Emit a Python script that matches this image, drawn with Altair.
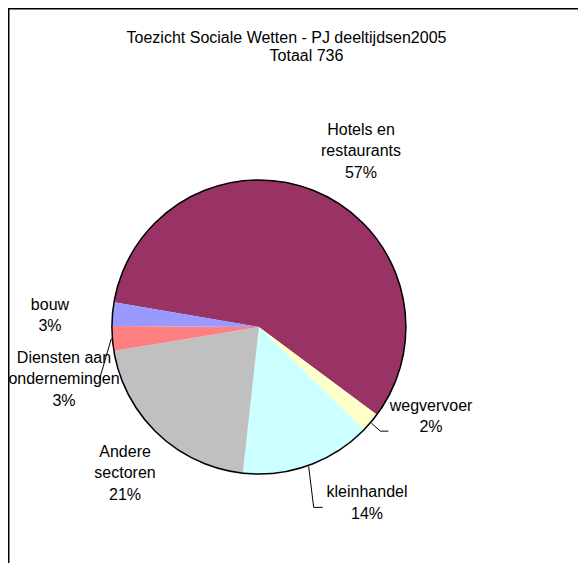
import math
import altair as alt
import pandas as pd

# ---------------- data ----------------
categories = ["Hotels en restaurants", "wegvervoer", "kleinhandel",
              "Andere sectoren", "Diensten aan ondernemingen", "bouw"]
label_names = [["Hotels en", "restaurants"], ["wegvervoer"], ["kleinhandel"],
               ["Andere", "sectoren"], ["Diensten aan", "ondernemingen"], ["bouw"]]
counts = [423, 16, 106, 152, 20, 19]
colors = ["#993366", "#FFFFCC", "#CCFFFF", "#C0C0C0", "#FF8080", "#9999FF"]
title_lines = ["Toezicht Sociale Wetten - PJ deeltijdsen2005", "Totaal 736"]

# ---------------- layout / style ----------------
W, H = 570, 555
CX, CY = 250.9, 319.0
R = 147
START = math.radians(-80.3)
FONT = "Liberation Sans"
FS = 16
LH = 21.5
# label anchor (first text line): angular shift from slice middle (deg) and distance (px)
label_shift_deg = [4.24, -15.92, -13.55, 3.62, -4.41, 1.03]
label_radius = [221.9, 189.3, 197.5, 182.8, 197.3, 210.1]
leader_elbows = {1: [(9, 8), (8, 0)], 2: [(5, 41), (9, 0)], 4: [(-12, 41)]}

TOTAL = sum(counts)
theta_scale = alt.Scale(domain=[0, TOTAL], range=[START, START + 2 * math.pi])

df = pd.DataFrame({"cat": categories, "count": counts, "idx": list(range(len(counts)))})

mids = []
acc = 0
for c in counts:
    mids.append(acc + c / 2)
    acc += c

labels_txt = []
for names, c in zip(label_names, counts):
    labels_txt.append("\n".join(names + [f"{round(c / TOTAL * 100)}%"]))

lab_df = pd.DataFrame({
    "label": labels_txt,
    "lt": [m + s / 360 * TOTAL for m, s in zip(mids, label_shift_deg)],
    "lr": label_radius,
})

rows = []
for i, elbows in leader_elbows.items():
    a = START + mids[i] / TOTAL * 2 * math.pi
    x = CX + (R + 1) * math.sin(a)
    y = CY - (R + 1) * math.cos(a)
    rows.append({"lid": i, "o": 0, "px": x, "py": y})
    for k, (ddx, ddy) in enumerate(elbows):
        x += ddx
        y += ddy
        rows.append({"lid": i, "o": k + 1, "px": x, "py": y})
lead_df = pd.DataFrame(rows)

one = pd.DataFrame({"k": [0]})

top_rule = alt.Chart(one).mark_rule(color="black", strokeWidth=1.5).encode(
    x=alt.value(0), x2=alt.value(W), y=alt.value(0.75))
left_rule = alt.Chart(one).mark_rule(color="black", strokeWidth=1.5).encode(
    x=alt.value(0.75), y=alt.value(0), y2=alt.value(H))

pie = alt.Chart(df).mark_arc(outerRadius=R, strokeWidth=0).encode(
    theta=alt.Theta("count:Q", stack=True, scale=theta_scale),
    color=alt.Color("cat:N", scale=alt.Scale(domain=categories, range=colors), legend=None),
    order=alt.Order("idx:Q"),
    x=alt.value(CX), y=alt.value(CY),
)

outline = alt.Chart(one).mark_arc(theta=0, theta2=2 * math.pi, outerRadius=R,
                                  fillOpacity=0, stroke="black", strokeWidth=1.5).encode(
    x=alt.value(CX), y=alt.value(CY))

leaders = alt.Chart(lead_df).mark_line(color="black", strokeWidth=1).encode(
    x=alt.X("px:Q", scale=None, axis=None),
    y=alt.Y("py:Q", scale=None, axis=None),
    detail="lid:N",
    order="o:Q",
)

labels = alt.Chart(lab_df).mark_text(font=FONT, fontSize=FS, lineBreak="\n", lineHeight=LH,
                                     align="center", baseline="middle", color="black").encode(
    theta=alt.Theta("lt:Q", stack=None, scale=theta_scale),
    radius=alt.Radius("lr:Q", scale=None),
    text="label:N",
    x=alt.value(CX), y=alt.value(CY),
)

t1 = alt.Chart(pd.DataFrame({"t": [title_lines[0]]})).mark_text(
    font=FONT, fontSize=FS, align="center", baseline="alphabetic", color="black").encode(
    text="t:N", x=alt.value(278.5), y=alt.value(35))
t2 = alt.Chart(pd.DataFrame({"t": [title_lines[1]]})).mark_text(
    font=FONT, fontSize=FS, align="center", baseline="alphabetic", color="black").encode(
    text="t:N", x=alt.value(298.5), y=alt.value(53))

chart = alt.layer(top_rule, left_rule, pie, outline, leaders, labels, t1, t2).properties(
    width=W, height=H, padding=0,
    autosize=alt.AutoSizeParams(type="none"),
    background="white",
).configure_view(strokeWidth=0)

chart.save("out.html", embed_options={"renderer": "svg", "actions": False})
